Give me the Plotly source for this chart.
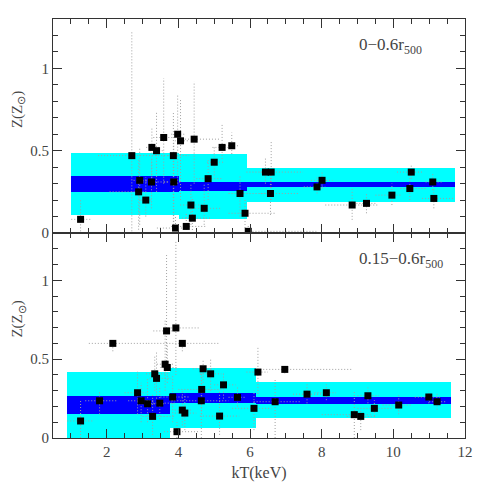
import plotly.graph_objects as go
from plotly.subplots import make_subplots

# ---- top panel: 0-0.6 r500 ----
top_kt    = [1.27, 2.70, 2.92, 2.89, 3.09, 3.26, 3.39, 3.25, 3.59, 3.86, 3.87, 3.92, 3.98, 4.06, 4.22, 4.35, 4.39, 4.44, 4.72,
             4.83, 5.00, 5.22, 5.49, 5.72, 5.86, 5.95, 6.43, 6.59, 6.57, 7.87, 8.01, 8.85, 9.25, 9.96, 10.50, 10.46, 11.10, 11.13]
top_z     = [0.083, 0.47, 0.32, 0.25, 0.20, 0.52, 0.50, 0.31, 0.58, 0.47, 0.31, 0.03, 0.60, 0.56, 0.04, 0.17, 0.09, 0.57, 0.15,
             0.33, 0.43, 0.52, 0.53, 0.24, 0.12, 0.01, 0.37, 0.37, 0.24, 0.28, 0.32, 0.17, 0.18, 0.23, 0.37, 0.27, 0.31, 0.21]
top_kt_lo = [1.01, 1.76, 2.75, 2.08, 2.95, 3.10, 3.20, 3.00, 3.30, 3.70, 3.60, 3.40, 3.80, 3.90, 3.80, 4.05, 4.10, 4.10, 4.30,
             4.50, 4.80, 4.95, 5.30, 5.40, 5.40, 5.90, 5.90, 6.30, 6.30, 7.50, 7.70, 8.10, 8.80, 9.50, 10.10, 10.20, 10.90, 10.80]
top_kt_hi = [1.57, 3.85, 3.15, 3.10, 3.25, 3.50, 3.60, 3.70, 3.90, 4.30, 4.10, 4.30, 4.20, 4.30, 4.80, 4.70, 4.90, 5.15, 5.20,
             5.20, 5.30, 5.50, 5.70, 6.50, 6.70, 7.85, 6.55, 7.48, 7.34, 8.10, 8.30, 9.60, 9.50, 10.20, 10.85, 10.90, 11.40, 11.70]
top_z_lo  = [0.01, 0.01, 0.05, 0.02, 0.10, 0.30, 0.25, 0.15, 0.30, 0.03, 0.05, 0.00, 0.30, 0.20, 0.00, 0.05, 0.00, 0.30, 0.05,
             0.20, 0.35, 0.45, 0.48, 0.10, 0.03, 0.00, 0.30, 0.20, 0.11, 0.24, 0.27, 0.08, 0.12, 0.17, 0.33, 0.20, 0.26, 0.15]
top_z_hi  = [0.21, 1.22, 0.52, 0.45, 0.34, 0.64, 0.74, 0.45, 0.94, 0.73, 0.55, 0.10, 0.84, 0.81, 0.12, 0.30, 0.22, 0.92, 0.30,
             0.45, 0.52, 0.66, 0.61, 0.35, 0.20, 0.05, 0.46, 0.56, 0.37, 0.34, 0.38, 0.27, 0.24, 0.30, 0.42, 0.35, 0.36, 0.27]

top_bin_lo  = [1.01, 4.02, 5.92]
top_bin_hi  = [4.02, 5.92, 11.72]
top_cyan_lo = [0.109, 0.085, 0.19]
top_cyan_hi = [0.485, 0.48, 0.392]
top_blue_lo = [0.247, 0.255, 0.277]
top_blue_hi = [0.345, 0.311, 0.307]

# ---- bottom panel: 0.15-0.6 r500 ----
bot_kt    = [1.27, 1.80, 2.17, 2.86, 2.96, 3.14, 3.28, 3.34, 3.39, 3.48, 3.63, 3.69, 3.67, 3.93, 3.84, 3.96, 4.11, 4.18, 4.11, 4.65,
             4.64, 4.69, 4.90, 5.26, 5.15, 5.65, 6.11, 6.22, 6.70, 6.97, 7.59, 8.13, 8.91, 9.09, 9.29, 9.47, 10.15, 10.99, 11.22]
bot_z     = [0.108, 0.236, 0.60, 0.287, 0.236, 0.217, 0.137, 0.407, 0.378, 0.221, 0.468, 0.447, 0.679, 0.698, 0.26, 0.04, 0.177,
             0.158, 0.60, 0.308, 0.236, 0.439, 0.407, 0.337, 0.139, 0.258, 0.188, 0.418, 0.23, 0.435, 0.278, 0.287, 0.148, 0.137,
             0.268, 0.188, 0.209, 0.26, 0.23]
bot_kt_lo = [0.90, 1.40, 1.50, 2.50, 2.60, 2.90, 3.00, 3.10, 3.20, 3.20, 3.40, 3.50, 3.30, 3.70, 3.50, 3.60, 3.90, 3.90, 3.16, 4.00,
             3.80, 4.40, 4.60, 5.00, 4.60, 5.40, 5.50, 5.90, 6.10, 6.20, 7.20, 7.80, 8.00, 8.70, 9.00, 9.00, 9.70, 10.60, 11.00]
bot_kt_hi = [1.60, 2.30, 3.15, 3.10, 3.30, 3.60, 3.90, 3.70, 3.80, 3.90, 3.90, 4.00, 4.00, 4.60, 4.30, 4.60, 4.40, 4.50, 5.15, 5.20,
             5.40, 5.00, 5.20, 5.60, 5.70, 5.90, 6.60, 6.50, 7.40, 8.83, 8.00, 8.40, 9.40, 9.50, 9.60, 10.00, 10.50, 11.30, 11.50]
bot_z_lo  = [0.00, 0.15, 0.55, 0.15, 0.10, 0.10, 0.02, 0.30, 0.25, 0.12, 0.30, 0.35, 0.45, 0.40, 0.10, 0.00, 0.08, 0.05, 0.55, 0.15,
             0.00, 0.35, 0.30, 0.25, 0.02, 0.20, 0.05, 0.28, 0.00, 0.41, 0.22, 0.24, 0.00, 0.05, 0.22, 0.14, 0.15, 0.22, 0.18]
bot_z_hi  = [0.24, 0.30, 0.62, 0.42, 0.35, 0.38, 0.28, 0.52, 0.55, 0.33, 0.75, 0.60, 1.16, 1.25, 0.40, 0.10, 0.30, 0.28, 0.62, 0.45,
             0.45, 0.50, 0.50, 0.42, 0.30, 0.32, 0.30, 0.58, 0.37, 0.45, 0.34, 0.34, 0.30, 0.18, 0.32, 0.24, 0.27, 0.30, 0.28]

bot_bin_lo  = [0.89, 3.76, 6.17]
bot_bin_hi  = [3.76, 6.17, 11.6]
bot_cyan_lo = [0.0, 0.063, 0.125]
bot_cyan_hi = [0.416, 0.443, 0.352]
bot_blue_lo = [0.154, 0.22, 0.217]
bot_blue_hi = [0.266, 0.285, 0.257]

y_ticks = [0, 0.5, 1]
y_tick_text = ["0", "0.5", "1"]
x_ticks = [2, 4, 6, 8, 10, 12]

FONT = "Liberation Serif"
TXT = "#444"


def add_bins(fig, row, lo, hi, zlo, zhi, color):
    centers = [(a + b) / 2 for a, b in zip(lo, hi)]
    widths = [b - a for a, b in zip(lo, hi)]
    fig.add_trace(go.Bar(x=centers, y=[b - a for a, b in zip(zlo, zhi)], base=zlo, width=widths,
                         marker=dict(color=color, line=dict(width=0)), hoverinfo="skip"), row=row, col=1)


def add_points(fig, row, kt, z, ktlo, kthi, zlo, zhi):
    ex, ey = [], []
    for x, y, a, b, c, d in zip(kt, z, ktlo, kthi, zlo, zhi):
        ex += [a, b, None, x, x, None]
        ey += [y, y, None, c, d, None]
    fig.add_trace(go.Scatter(x=ex, y=ey, mode="lines", line=dict(color="#a0a0a0", width=1, dash="1px,2px"),
                             hoverinfo="skip"), row=row, col=1)
    fig.add_trace(go.Scatter(x=kt, y=z, mode="markers",
                             marker=dict(symbol="square", size=7, color="black")), row=row, col=1)


fig = make_subplots(rows=2, cols=1, shared_xaxes=True, vertical_spacing=0, row_heights=[214, 205])

add_bins(fig, 1, top_bin_lo, top_bin_hi, top_cyan_lo, top_cyan_hi, "#00ffff")
add_bins(fig, 1, top_bin_lo, top_bin_hi, top_blue_lo, top_blue_hi, "#0000ff")
add_points(fig, 1, top_kt, top_z, top_kt_lo, top_kt_hi, top_z_lo, top_z_hi)

add_bins(fig, 2, bot_bin_lo, bot_bin_hi, bot_cyan_lo, bot_cyan_hi, "#00ffff")
add_bins(fig, 2, bot_bin_lo, bot_bin_hi, bot_blue_lo, bot_blue_hi, "#0000ff")
add_points(fig, 2, bot_kt, bot_z, bot_kt_lo, bot_kt_hi, bot_z_lo, bot_z_hi)

axis_common = dict(showline=True, linecolor="#333", linewidth=1, mirror="ticks", ticks="inside",
                   tickcolor="#333", ticklen=9, showgrid=False, zeroline=False,
                   tickfont=dict(family=FONT, size=15, color=TXT))
fig.update_xaxes(range=[0.5, 12], tickvals=x_ticks, minor=dict(dtick=0.5, tick0=0, ticks="inside", ticklen=5,
                 tickcolor="#333"), **axis_common)
fig.update_xaxes(showticklabels=False, row=1, col=1)
fig.update_xaxes(title=dict(text="kT(keV)", font=dict(family=FONT, size=16, color=TXT), standoff=7), row=2, col=1)
fig.update_yaxes(range=[0, 1.3], tickvals=y_ticks, ticktext=y_tick_text,
                 minor=dict(dtick=0.1, tick0=0, ticks="inside", ticklen=5, tickcolor="#333"), **axis_common)

fig.add_annotation(text="0\u22120.6r<sub>500</sub>", xref="paper", yref="paper", x=0.738, y=0.935,
                   xanchor="left", yanchor="middle", showarrow=False, font=dict(family=FONT, size=17, color=TXT))
fig.add_annotation(text="0.15\u22120.6r<sub>500</sub>", xref="paper", yref="paper", x=0.738, y=0.425,
                   xanchor="left", yanchor="middle", showarrow=False, font=dict(family=FONT, size=17, color=TXT))
for yy in [0.785, 0.285]:
    fig.add_annotation(text="Z(Z<sub>\u2299</sub>)", xref="paper", yref="paper", x=-0.085, y=yy,
                       xanchor="center", yanchor="middle",
                       textangle=-90, showarrow=False, font=dict(family=FONT, size=15, color=TXT))

# page body adds an 8px offset, so the figure is 8px smaller and margins shifted
fig.update_layout(width=483, height=483, margin=dict(l=45, r=26, t=11, b=53), barmode="overlay", bargap=0,
                  showlegend=False, paper_bgcolor="white", plot_bgcolor="white")

fig.write_html("out.html")
